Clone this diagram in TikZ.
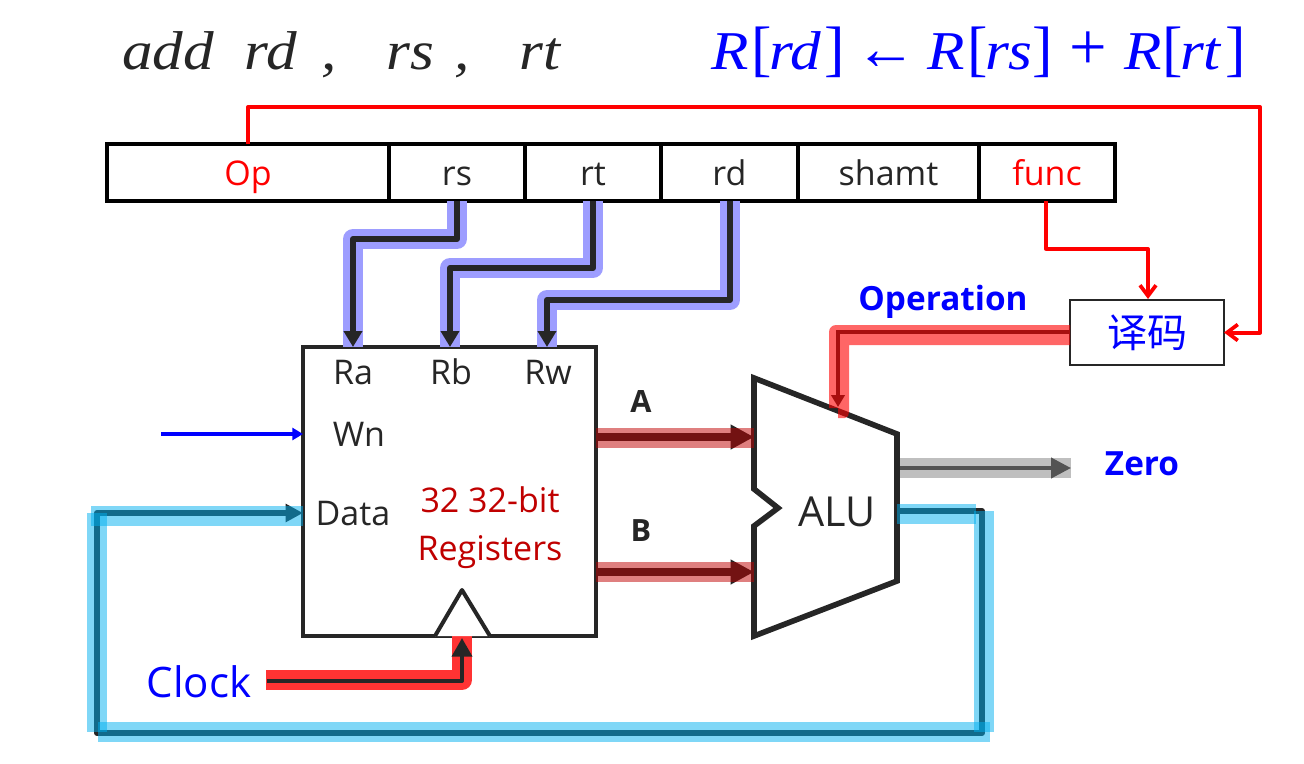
\documentclass[tikz,border=0pt]{standalone}
\usepackage{fontspec}
\setmainfont{Open Sans}
\newfontfamily\eqfont{Liberation Serif}[Ligatures=TeX,FakeStretch=1.12]
\newfontfamily\equp{Liberation Serif}[Ligatures=TeX]
\newfontfamily\cjk{Noto Sans CJK SC}
\usetikzlibrary{arrows.meta,positioning}
\definecolor{ink}{HTML}{262626}
\definecolor{regred}{HTML}{C00000}
\definecolor{pureblue}{HTML}{0000FF}
\definecolor{ribbonblue}{HTML}{9D9DFF}
\definecolor{sky}{HTML}{00B0F0}
\newcommand\tk[2]{\rlap{\hspace{#1\dimexpr0.75pt\relax}#2}}
\newcommand\brk[1]{{\equp\upshape\fontsize{46}{46}\selectfont #1}}
\newcommand\opr[1]{{\equp\upshape\fontsize{50}{50}\selectfont #1}}
\tikzset{
  x=0.75pt,y=-0.75pt,
  field/.style={draw=black,line width=3pt,anchor=north west,minimum height=42.75pt,inner sep=0pt,outer sep=0pt,font=\fontsize{25.5}{25.5}\selectfont,text=ink,text height=20pt,text depth=0pt},
  lab/.style={inner sep=0pt,outer sep=0pt,anchor=base,text=ink,font=\fontsize{25.5}{25.5}\selectfont},
  boldlab/.style={inner sep=0pt,outer sep=0pt,anchor=base,font=\bfseries\fontsize{23}{23}\selectfont},
  mathlab/.style={inner sep=0pt,outer sep=0pt,anchor=base west,font=\eqfont\itshape\fontsize{41}{41}\selectfont},
  ribbon/.style={ribbonblue,line width=15pt,line join=round},
  wire/.style={ink,line width=4.6pt,line join=round,-{Triangle[length=12pt,width=13.5pt]}},
  redwire/.style={red,line width=3pt,line join=round,-{Straight Barb[length=8pt,width=12pt,line width=2.8pt]}},
  skyband/.style={draw=none,fill=sky,fill opacity=0.5},
}
\begin{document}
\begin{tikzpicture}
\useasboundingbox (0,0) rectangle (1304,764);
\fill[white] (0,0) rectangle (1304,764);

% header text
\node[mathlab,text=ink] (instr) at (122,69) {\tk{0}{add}\tk{123}{rd}\tk{200}{,}\tk{265}{rs}\tk{333}{,}\tk{398}{rt}\phantom{add}};
\node[mathlab,text=pureblue] (rtl) at (711,69) {\tk{0}{R}\tk{40}{\brk{[}}\tk{58}{rd}\tk{113}{\brk{]}}\tk{145}{\brk{←}}\tk{216}{R}\tk{256}{\brk{[}}\tk{274}{rs}\tk{321}{\brk{]}}\tk{358}{\opr{+}}\tk{413}{R}\tk{451}{\brk{[}}\tk{469}{rt}\tk{514}{\brk{]}}\phantom{R}};

% instruction fields
\node[field,minimum width=211.5pt,text=red] (op) at (107,144) {Op};
\node[field,minimum width=102pt] (rs) at (389,144) {rs};
\node[field,minimum width=102pt] (rt) at (525,144) {rt};
\node[field,minimum width=102.75pt] (rd) at (661,144) {rd};
\node[field,minimum width=135.75pt] (shamt) at (798,144) {shamt};
\node[field,minimum width=102pt,text=red] (func) at (979,144) {func};

% register file and ALU
\node[draw=ink,line width=3pt,anchor=north west,minimum width=219.75pt,minimum height=216.75pt,inner sep=0pt,outer sep=0pt] (reg) at (303,347) {};
\coordinate (ra) at (353,347);
\coordinate (rb) at (450,347);
\coordinate (rw) at (547,347);
\coordinate (clkin) at (462,636);
\coordinate (datain) at (303,513);
\coordinate (wnin) at (303,434);
\coordinate (wnfree) at (161,434);
\coordinate (aout) at (596,437);
\coordinate (bout) at (596,572);
\coordinate (ain) at (754,437);
\coordinate (bin) at (754,572);
\coordinate (opin) at (838,407);
\coordinate (zout) at (897,468);
\coordinate (zfree) at (1071,468);
\coordinate (rout) at (897,511);
\coordinate (clkfree) at (267,681);

% ribbons behind the bus wires
\draw[ribbon] (457,201) |- (353,239) -- (ra);
\draw[ribbon] (593,201) |- (450,268) -- (rb);
\draw[ribbon] (730,201) |- (547,300) -- (rw);
\draw[wire] (457,201) |- (353,239) -- (ra);
\draw[wire] (593,201) |- (450,268) -- (rb);
\draw[wire] (730,201) |- (547,300) -- (rw);

\draw[ink,line width=4.2pt,line join=miter]
  (754,378) -- (897,434) -- (897,581) -- (754,636) -- (754,526) -- (778,508) -- (754,489) -- cycle;
\node[lab,font=\fontsize{31}{31}\selectfont] (alu) at (837,526) {ALU};

% clock input
\draw[red!80,line width=15pt,line join=round] (266,680) -| (clkin);
\draw[ink,line width=3pt,line join=round,-{Triangle[length=14pt,width=15pt]}] (clkfree) -| ([yshift=-1.5pt]clkin);
\draw[ink,line width=3pt,fill=white,line join=round] (435,636) -- (462,590) -- (490,636);

% red control wires
\node[draw=ink,line width=1.9pt,anchor=north west,minimum width=115.5pt,minimum height=48.75pt,inner sep=0pt,outer sep=0pt,text=pureblue,font=\cjk\fontsize{30}{30}\selectfont] (dec) at (1070,300) {译码};
\draw[redwire] (op.north) |- (1260,107) |- (dec.east);
\draw[redwire,line width=2.5pt] (1046,201) |- (1148,249) -- (1148,299);

% data wires with translucent bands above them
\draw[ink,line width=6pt,line cap=butt,-{Triangle[length=17.5pt,width=17.5pt]}] (aout) -- (ain);
\fill[regred,fill opacity=0.5] (596,428) rectangle (754,448);
\draw[ink,line width=6pt,line cap=butt,-{Triangle[length=17.5pt,width=17.5pt]}] (bout) -- (bin);
\fill[regred,fill opacity=0.5] (596,562) rectangle (754,582);

\draw[ink,line width=3pt,-{Triangle[length=15pt,width=15pt]}] (zout) -- (zfree);
\fill[gray,fill opacity=0.5] (900,458) rectangle (1071,478);

% operation wire
\draw[ink,line width=3pt,line join=miter,-{Triangle[length=9pt,width=10pt]}] (dec.west |- 0,332) -| (opin);
\fill[red,fill opacity=0.6] (1070,325) -- (836,325) to[out=180,in=90] (829,332) -- (829,408) -- (838,408) -- (838,418) -- (845,418) to[out=0,in=-90] (849,412) -- (849,345) -- (1070,345) -- cycle;

% result loop
\draw[ink,line width=4.4pt,line join=round,-{Triangle[length=13pt,width=13pt]}] (rout) -- (982,511) |- (97,733) |- (datain);
\fill[skyband] (897,504) rectangle (976,524);
\fill[skyband] (974,511) rectangle (994,732);
\fill[skyband] (98,722) rectangle (990,742);
\fill[skyband] (87,513) rectangle (107,732);
\fill[skyband] (91,506) rectangle (303,526);

% blue input
\draw[pureblue,line width=3pt,-{Triangle[length=8pt,width=9pt]}] (wnfree) -- (wnin);

% labels
\node[lab] (la) at (353,384) {Ra};
\node[lab] (lb) at (451,384) {Rb};
\node[lab] (lw) at (548,384) {Rw};
\node[lab] (lwn) at (359,446) {Wn};
\node[lab] (ldata) at (353,525) {Data};
\node[lab,text=regred] (l32) at (490,512) {32 32-bit};
\node[lab,text=regred] (lreg) at (490,560) {Registers};
\node[boldlab,text=ink] (la2) at (641,412) {A};
\node[boldlab,text=ink] (lb2) at (641,541) {B};
\node[boldlab,text=pureblue,font=\bfseries\fontsize{25}{25}\selectfont] (lop) at (943,310) {Operation};
\node[boldlab,text=pureblue,font=\bfseries\fontsize{25}{25}\selectfont] (lz) at (1142,475) {Zero};
\node[lab,text=pureblue,font=\fontsize{31.5}{31.5}\selectfont] (lclk) at (199,697) {Clock};
\end{tikzpicture}
\end{document}
